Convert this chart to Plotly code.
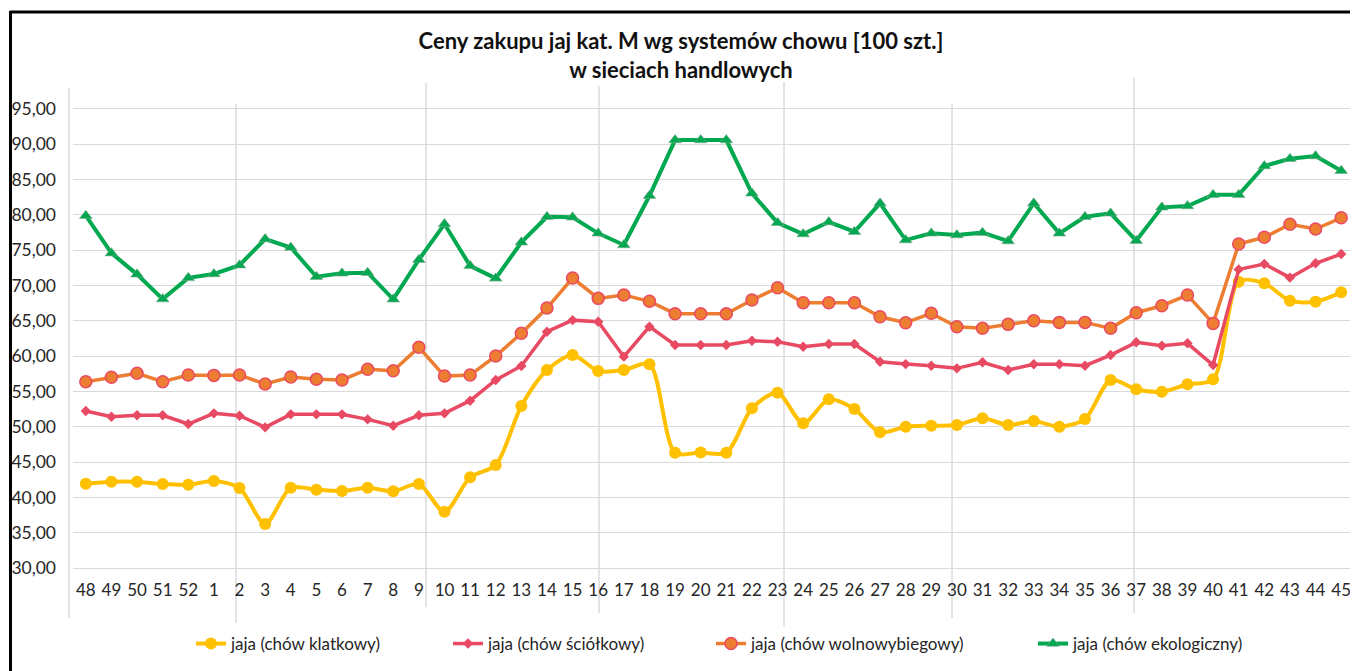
import plotly.graph_objects as go

# ---- data ----
weeks = ["48", "49", "50", "51", "52"] + [str(i) for i in range(1, 46)]

klatkowy = [41.97, 42.26, 42.26, 41.92, 41.83, 42.35, 41.36, 36.27, 41.40, 41.12,
            40.94, 41.40, 40.89, 41.92, 38.00, 42.88, 44.62, 52.97, 58.06, 60.18,
            57.92, 58.06, 58.87, 46.36, 46.40, 46.36, 52.64, 54.85, 50.52, 53.91,
            52.54, 49.24, 50.04, 50.18, 50.28, 51.22, 50.28, 50.84, 50.04, 51.13,
            56.65, 55.33, 55.00, 56.04, 56.74, 70.56, 70.33, 67.87, 67.73, 69.05]

sciolkowy = [52.26, 51.45, 51.65, 51.65, 50.42, 51.93, 51.60, 49.95, 51.79, 51.79,
             51.79, 51.08, 50.18, 51.65, 51.93, 53.72, 56.65, 58.63, 63.48, 65.12,
             64.90, 59.95, 64.19, 61.60, 61.60, 61.60, 62.20, 62.07, 61.36, 61.74,
             61.74, 59.23, 58.90, 58.67, 58.30, 59.15, 58.06, 58.87, 58.87, 58.67,
             60.18, 61.98, 61.50, 61.84, 58.77, 72.30, 73.06, 71.13, 73.16, 74.47]

wolnowybiegowy = [56.40, 57.03, 57.60, 56.40, 57.35, 57.30, 57.35, 56.08, 57.07, 56.74,
                  56.65, 58.16, 57.96, 61.27, 57.20, 57.35, 60.04, 63.25, 66.83, 71.08,
                  68.20, 68.67, 67.78, 66.03, 66.03, 66.03, 67.97, 69.70, 67.58, 67.58,
                  67.58, 65.60, 64.75, 66.08, 64.19, 63.96, 64.52, 65.04, 64.80, 64.80,
                  63.96, 66.17, 67.16, 68.67, 64.66, 75.89, 76.84, 78.68, 78.01, 79.60]

ekologiczny = [79.90, 74.60, 71.60, 68.10, 71.10, 71.65, 72.90, 76.60, 75.40, 71.26,
               71.74, 71.83, 68.07, 73.67, 78.72, 72.80, 71.03, 76.13, 79.75, 79.67,
               77.40, 75.75, 82.72, 90.60, 90.60, 90.60, 83.06, 78.90, 77.30, 79.00,
               77.63, 81.65, 76.45, 77.40, 77.16, 77.50, 76.30, 81.65, 77.40, 79.75,
               80.23, 76.36, 81.08, 81.27, 82.85, 82.85, 86.93, 87.96, 88.34, 86.27]

names = ["jaja (chów klatkowy)", "jaja (chów ściółkowy)",
         "jaja (chów wolnowybiegowy)", "jaja (chów ekologiczny)"]

y_tick_vals = [30, 35, 40, 45, 50, 55, 60, 65, 70, 75, 80, 85, 90, 95]
y_tick_labels = ["30,00", "35,00", "40,00", "45,00", "50,00", "55,00", "60,00",
                 "65,00", "70,00", "75,00", "80,00", "85,00", "90,00", "95,00"]

title_text = "Ceny zakupu jaj kat. M wg systemów chowu [100 szt.]<br>w sieciach handlowych"

# ---- layout geometry (page coordinates; the page body adds an 8px offset) ----
OFF = 8
PAGE_W, PAGE_H = 1358, 671
W, H = PAGE_W - OFF, PAGE_H - OFF
PL, PR_, PT, PB = 73, 1354, 100, 578   # plot area edges in page pixels
L, R, T, B = PL - OFF, W - (PR_ - OFF), PT - OFF, H - (PB - OFF)
PW, PH = W - L - R, H - T - B


def px(x):
    return (x - OFF - L) / PW


def py(y):
    return (H - B - (y - OFF)) / PH


YELLOW = "#FFC000"
RED = "#E94A63"
ORANGE = "#ED7D31"
GREEN = "#00A84F"
FONT = "Lato"

fig = go.Figure()

fig.add_trace(go.Scatter(
    x=weeks, y=klatkowy, name=names[0], mode="lines+markers",
    line=dict(color=YELLOW, width=4, shape="spline", smoothing=0.8),
    marker=dict(symbol="circle", size=12, color=YELLOW, line=dict(width=0)),
    legend="legend"))
fig.add_trace(go.Scatter(
    x=weeks, y=sciolkowy, name=names[1], mode="lines+markers",
    line=dict(color=RED, width=3.5),
    marker=dict(symbol="diamond", size=8, color=RED, line=dict(width=0)),
    legend="legend2"))
fig.add_trace(go.Scatter(
    x=weeks, y=wolnowybiegowy, name=names[2], mode="lines+markers",
    line=dict(color=ORANGE, width=3.5),
    marker=dict(symbol="circle", size=12, color=ORANGE, line=dict(width=1.5, color=RED)),
    legend="legend3"))
fig.add_trace(go.Scatter(
    x=weeks, y=ekologiczny, name=names[3], mode="lines+markers",
    line=dict(color=GREEN, width=4),
    marker=dict(symbol="triangle-up", size=11, color=GREEN, line=dict(width=0.6, color="#8aa890")),
    legend="legend4"))

# decorative lines present in the picture (thin vertical strokes + frame)
shapes = []
vlines = [(69, 88, 618), (236, 104, 623), (426, 83, 607), (599, 86, 613),
          (784, 82, 627), (952, 104, 618), (1134, 78, 613)]
for xx, y0, y1 in vlines:
    shapes.append(dict(type="line", xref="paper", yref="paper",
                       x0=px(xx), x1=px(xx), y0=py(y0), y1=py(y1),
                       line=dict(color="#c8c8c8", width=1), layer="below"))
shapes.append(dict(type="line", xref="paper", yref="paper",
                   x0=px(10), x1=px(1362), y0=py(12), y1=py(12),
                   line=dict(color="black", width=3)))
shapes.append(dict(type="line", xref="paper", yref="paper",
                   x0=px(10.5), x1=px(10.5), y0=py(11), y1=py(675),
                   line=dict(color="black", width=3)))

leg_common = dict(orientation="h", yanchor="middle", xanchor="left",
                  bgcolor="rgba(0,0,0,0)", font=dict(family=FONT, size=17, color="#262626"),
                  itemwidth=30, tracegroupgap=0)
leg_y = py(644)
fig.update_layout(
    width=W, height=H,
    margin=dict(l=L, r=R, t=T, b=B),
    paper_bgcolor="white", plot_bgcolor="white",
    title=dict(text=title_text, x=(681 - OFF) / W, xanchor="center",
               y=1 - (49 - OFF) / H, yanchor="middle",
               font=dict(family=FONT, size=22, color="#111111", weight="bold")),
    xaxis=dict(type="category", categoryorder="array", categoryarray=weeks,
               range=[-0.5, len(weeks) - 0.5], showgrid=False, zeroline=False,
               showline=False, ticks="", tickfont=dict(family=FONT, size=17, color="#262626"),
               tickangle=0),
    yaxis=dict(range=[28.63, 96.27], tickvals=y_tick_vals, ticktext=y_tick_labels,
               showgrid=True, gridcolor="#d9d9d9", gridwidth=1.2, zeroline=False,
               showline=False, ticks="", ticklabelstandoff=16,
               tickfont=dict(family=FONT, size=17.5, color="#262626")),
    showlegend=True,
    legend=dict(x=px(191), y=leg_y, **leg_common),
    legend2=dict(x=px(448), y=leg_y, **leg_common),
    legend3=dict(x=px(711), y=leg_y, **leg_common),
    legend4=dict(x=px(1033), y=leg_y, **leg_common),
    shapes=shapes,
)

fig.write_html("out.html")
